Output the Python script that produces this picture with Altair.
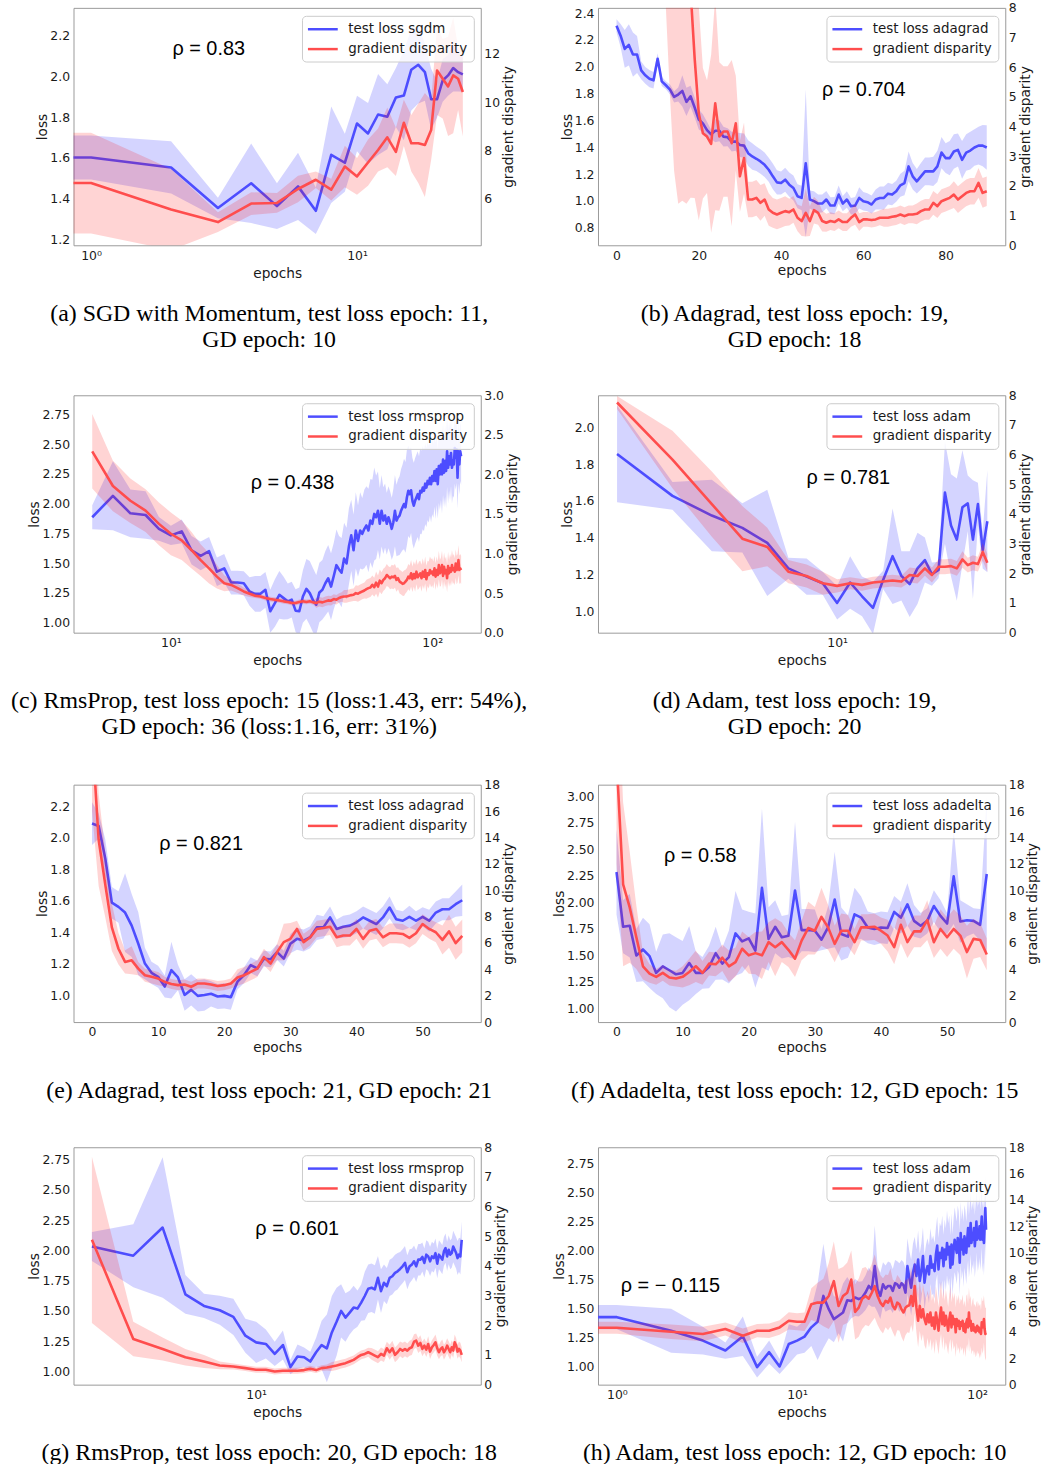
import altair as alt
import numpy as np
import pandas as pd

# ---------------- (a) SGD with momentum ----------------
A_EPOCH = list(range(0, 26))
A_LOSS = [1.602, 1.602, 1.553, 1.354, 1.475, 1.363, 1.460, 1.340, 1.615, 1.576,
          1.769, 1.720, 1.813, 1.802, 1.896, 1.906, 2.033, 2.057, 2.021, 1.888,
          1.888, 1.980, 2.005, 2.041, 2.021, 2.010]
A_LOSS_SD = [.108, .108, .128, .05, .195, .112, .165, .114, .237, .142,
             .136, .149, .199, .16, .145, .22, .2, .19, .14, .15,
             .09, .105, .1, .115, .095, .085]
A_GD = [6.645, 6.645, 5.547, 5.025, 5.794, 5.821, 6.398, 6.782, 6.370, 7.332,
        6.920, 7.496, 8.018, 8.540, 7.936, 9.144, 8.293, 8.293, 8.224, 8.842,
        11.313, 10.970, 10.654, 11.108, 10.970, 10.421]
A_GD_SD = [2.09, 2.09, 1.68, .41, .47, .41, .55, .34, .45, .86,
           .76, .96, .89, 1.24, 1.0, .96, 1.17, 1.65, 2.16, 1.24,
           1.85, 1.65, 2.06, 2.4, 1.3, 1.85]

# ---------------- (b) Adagrad ----------------
B_EPOCH = list(range(0, 91))
B_LOSS = [2.306, 2.232, 2.133, 2.163, 2.091, 2.091, 1.973, 1.936, 1.911, 1.899,
          2.059, 1.891, 1.862, 1.830, 1.775, 1.793, 1.820, 1.738, 1.780, 1.696,
          1.607, 1.578, 1.528, 1.496, 1.523, 1.523, 1.479, 1.474, 1.442, 1.442,
          1.417, 1.412, 1.356, 1.331, 1.314, 1.294, 1.269, 1.232, 1.183, 1.138,
          1.133, 1.158, 1.121, 1.096, 1.035, 1.022, 1.281, 1.010, 0.998, 0.980,
          0.980, 1.010, 0.965, 0.965, 1.047, 0.980, 1.010, 0.960, 0.965, 1.022,
          0.998, 0.990, 0.973, 1.010, 1.022, 1.022, 1.054, 1.047, 1.072, 1.116,
          1.133, 1.257, 1.183, 1.146, 1.183, 1.220, 1.220, 1.220, 1.257, 1.360,
          1.319, 1.319, 1.368, 1.380, 1.306, 1.360, 1.375, 1.398, 1.412, 1.412,
          1.398]
B_LOSS_SD = [.049, .086, .141, .153, .165, .138, .067, .062, .064, .062,
             .042, .035, .03, .037, .042, .052, .116, .106, .079, .074,
             .074, .067, .062, .035, .086, .079, .074, .067, .074, .069,
             .089, .091, .096, .099, .091, .091, .091, .089, .096, .091,
             .086, .089, .091, .094, .089, .091, .55, .067, .074, .067,
             .067, .064, .062, .064, .067, .057, .062, .062, .064, .079,
             .069, .067, .067, .074, .086, .086, .081, .079, .079, .086,
             .091, .111, .099, .091, .099, .104, .104, .109, .116, .116,
             .111, .128, .128, .123, .141, .136, .141, .136, .141, .153,
             .165]
B_GD = [40, 35, 30, 27, 24, 22, 20, 18.5, 17, 16,
        15, 14, 13.5, 13, 12.5, 12, 11, 10.5, 8.6, 6.29,
        4.447, 3.777, 3.665, 3.419, 4.782, 3.665, 3.832, 3.832, 3.441, 4.112,
        2.324, 2.939, 1.542, 1.542, 1.598, 1.430, 1.542, 1.207, 1.095, 1.039,
        1.095, 1.151, 1.117, 1.207, 0.927, 0.816, 1.095, 0.816, 1.184, 1.095,
        0.816, 0.760, 0.816, 0.782, 0.872, 0.782, 0.782, 0.927, 1.039, 0.782,
        0.872, 0.872, 0.849, 0.872, 0.927, 0.927, 0.927, 0.961, 0.983, 1.039,
        0.983, 1.039, 1.039, 1.061, 1.151, 1.207, 1.207, 1.430, 1.318, 1.486,
        1.542, 1.598, 1.709, 1.542, 1.654, 1.765, 1.821, 1.821, 2.101, 1.765,
        1.821]
B_GD_SD = [12, 10.5, 9, 8, 7.2, 6.6, 6, 5.5, 5.1, 4.8,
           4.5, 4.2, 5.5, 8, 10, 10.6, 9.5, 9.1, 7, 4.7,
           3.6, 2.2, 1.9, 3.0, 3.6, 2.5, 2.2, 2.2, 2.8, 1.6,
           1.2, 1.2, .6, .6, .6, .6, .55, .55, .5, .5,
           .5, .5, .45, .45, .45, .5, .8, .5, .45, .4,
           .35, .3, .3, .3, .3, .3, .3, .3, .35, .3,
           .25, .25, .25, .25, .25, .3, .3, .3, .3, .3,
           .3, .3, .3, .35, .35, .35, .35, .4, .4, .4,
           .4, .4, .45, .45, .45, .45, .45, .45, .5, .5,
           .5]

# ---------------- (c) RMSprop ----------------
C_EPOCH = list(range(5, 130))
C_LOSS = [1.886, 2.066, 1.919, 1.905, 1.789, 1.734, 1.767, 1.609, 1.562, 1.601,
          1.429, 1.457, 1.338, 1.338, 1.332, 1.263, 1.243, 1.243, 1.277, 1.097,
          1.166, 1.235, 1.207, 1.180, 1.194, 1.102, 1.097, 1.221, 1.285, 1.249,
          1.188, 1.152, 1.255, 1.277, 1.332, 1.374, 1.304, 1.393, 1.484, 1.448,
          1.421, 1.540, 1.498, 1.642, 1.734, 1.609, 1.775, 1.687, 1.775, 1.747,
          1.789, 1.817, 1.775, 1.858, 1.831, 1.914, 1.886, 1.941, 1.831, 1.941,
          1.858, 1.900, 1.831, 1.886, 1.844, 1.789, 1.844, 1.941, 1.858, 1.886,
          1.900, 1.941, 1.969, 1.997, 1.969, 2.052, 2.108, 2.080, 2.113, 2.024,
          1.983, 2.024, 2.052, 2.080, 2.038, 2.108, 2.094, 2.135, 2.108, 2.168,
          2.135, 2.191, 2.163, 2.218, 2.163, 2.232, 2.191, 2.274, 2.191, 2.288,
          2.163, 2.315, 2.246, 2.329, 2.246, 2.371, 2.260, 2.357, 2.274, 2.440,
          2.301, 2.398, 2.329, 2.426, 2.301, 2.357, 2.329, 2.468, 2.385, 2.454,
          2.218, 2.440, 2.329, 2.440, 2.398]
C_LOSS_SD = [.1, .29, .2, .2, .1, .08, .1, .12, .12, .12,
             .12, .12, .1, .1, .1, .12, .15, .15, .15, .18,
             .2, .2, .18, .15, .15, .18, .2, .22, .25, .27,
             .27, .25, .25, .25, .27, .28, .28, .28, .3, .28,
             .29, .3, .3, .32, .3, .3, .32, .3, .32, .3,
             .33, .33, .35, .35, .37, .39, .35, .33, .3, .3,
             .28, .27, .26, .26, .26, .26, .28, .3, .3, .32,
             .33, .35, .36, .38, .38, .4, .38, .37, .36, .36,
             .36, .36, .36, .36, .36, .36, .35, .35, .34, .34,
             .33, .33, .32, .32, .32, .32, .31, .3, .32, .3,
             .29, .31, .3, .3, .33, .3, .29, .3, .31, .3,
             .3, .29, .3, .28, .3, .29, .28, .3, .27, .28,
             .26, .27, .25, .25, .24]
C_GD = [2.292, 1.854, 1.667, 1.542, 1.375, 1.25, 1.167, 1.042, 0.917, 0.813,
        0.708, 0.625, 0.604, 0.563, 0.521, 0.492, 0.467, 0.458, 0.438, 0.425,
        0.417, 0.408, 0.396, 0.388, 0.375, 0.375, 0.388, 0.396, 0.388, 0.396,
        0.383, 0.375, 0.392, 0.383, 0.396, 0.408, 0.404, 0.425, 0.417, 0.438,
        0.45, 0.458, 0.458, 0.467, 0.475, 0.479, 0.5, 0.492, 0.508, 0.521,
        0.533, 0.55, 0.563, 0.571, 0.604, 0.575, 0.633, 0.583, 0.658, 0.625,
        0.667, 0.688, 0.729, 0.708, 0.688, 0.708, 0.7, 0.717, 0.667, 0.688,
        0.646, 0.633, 0.617, 0.625, 0.646, 0.667, 0.708, 0.688, 0.75, 0.675,
        0.742, 0.688, 0.771, 0.7, 0.729, 0.75, 0.688, 0.771, 0.708, 0.792,
        0.675, 0.75, 0.729, 0.792, 0.75, 0.771, 0.729, 0.813, 0.708, 0.792,
        0.729, 0.854, 0.75, 0.771, 0.854, 0.717, 0.833, 0.75, 0.792, 0.688,
        0.842, 0.75, 0.813, 0.771, 0.854, 0.792, 0.813, 0.771, 0.875, 0.792,
        0.813, 0.917, 0.792, 0.813, 0.792]
C_GD_SD = [.47, .32, .28, .27, .27, .27, .25, .23, .2, .19,
           .15, .1, .07, .06, .05, .04, .03, .03, .03, .03,
           .03, .03, .03, .03, .03, .03, .03, .03, .03, .03,
           .03, .06, .06, .06, .06, .06, .06, .06, .06, .06,
           .06, .08, .08, .08, .08, .08, .1, .1, .1, .1,
           .1, .12, .12, .12, .12, .12, .14, .14, .14, .14,
           .14, .14, .14, .13, .14, .15, .15, .15, .15, .14,
           .15, .15, .15, .16, .15, .15, .16, .16, .17, .16,
           .16, .17, .16, .16, .17, .16, .17, .17, .16, .17,
           .17, .16, .17, .17, .18, .17, .17, .16, .17, .17,
           .17, .18, .17, .18, .18, .17, .18, .18, .17, .18,
           .18, .17, .18, .18, .19, .18, .18, .17, .18, .18,
           .18, .19, .18, .18, .18]

# ---------------- (d) Adam ----------------
D_EPOCH = list(range(2, 31))
D_LOSS = [1.855, 1.627, 1.520, 1.453, 1.371, 1.233, 1.188, 1.152, 1.045, 1.156,
          1.081, 1.018, 1.170, 1.299, 1.192, 1.147, 1.233, 1.278, 1.201, 1.224,
          1.645, 1.466, 1.389, 1.565, 1.586, 1.389, 1.582, 1.332, 1.489]
D_LOSS_SD = [.263, .075, .194, .134, .289, .057, .099, .063, .09, .143,
             .108, .142, .05, .26, .134, .179, .194, .122, .063, .045,
             .278, .278, .332, .31, .152, .323, .116, .1, .278]
D_GD = [7.756, 5.833, 4.333, 3.167, 2.889, 2.056, 1.911, 1.667, 1.578, 1.667,
        1.611, 1.689, 1.722, 1.756, 1.722, 1.944, 1.911, 2.167, 1.944, 2.222,
        2.222, 2.244, 2.167, 2.467, 2.278, 2.356, 2.311, 2.722, 2.356]
D_GD_SD = [.22, .97, 1.1, 1.1, .65, .39, .39, .39, .22, .2,
           .2, .2, .2, .2, .2, .25, .25, .25, .25, .25,
           .25, .25, .25, .28, .25, .25, .25, .3, .3]

# ---------------- (e) Adagrad ----------------
E_EPOCH = list(range(0, 57))
E_LOSS = [2.089, 2.074, 1.869, 1.587, 1.560, 1.524, 1.441, 1.326, 1.200, 1.141,
          1.116, 1.054, 1.158, 1.112, 1.001, 1.033, 0.995, 1.001, 1.008, 0.991,
          0.995, 0.987, 1.085, 1.127, 1.190, 1.169, 1.231, 1.227, 1.273, 1.231,
          1.326, 1.357, 1.346, 1.367, 1.430, 1.430, 1.493, 1.420, 1.434, 1.441,
          1.462, 1.493, 1.472, 1.451, 1.493, 1.556, 1.482, 1.472, 1.497, 1.472,
          1.497, 1.472, 1.524, 1.545, 1.545, 1.577, 1.602]
E_LOSS_SD = [.136, .08, .12, .1, .1, .25, .2, .2, .1, .07,
             .07, .07, .18, .08, .1, .1, .1, .1, .08, .08,
             .08, .08, .05, .05, .05, .05, .05, .05, .05, .05,
             .06, .07, .07, .07, .08, .07, .07, .06, .07, .07,
             .07, .07, .07, .07, .07, .07, .06, .06, .07, .06,
             .06, .07, .07, .07, .07, .08, .1]
E_GD = [22, 13.82, 10.44, 7.18, 5.56, 4.56, 4.68, 4.05, 3.55, 3.43,
        3.30, 3.05, 2.88, 2.80, 2.85, 2.68, 2.93, 2.93, 2.85, 2.73,
        2.80, 2.93, 3.38, 3.55, 3.80, 4.05, 4.93, 4.43, 5.31, 6.06,
        6.31, 7.06, 6.06, 6.43, 7.06, 7.13, 7.23, 6.43, 6.56, 6.56,
        7.06, 6.31, 6.93, 7.06, 6.43, 6.73, 6.73, 6.68, 6.38, 6.73,
        7.43, 7.06, 6.81, 6.23, 6.88, 5.98, 6.53]
E_GD_SD = [6, 3.5, 2.5, 1.8, 1.2, .88, 1.06, .5, .5, .5,
           .5, .38, .38, .38, .38, .38, .38, .38, .38, .38,
           .38, .38, .63, .63, .63, .63, .63, .63, .63, 1.4,
           1.2, .63, .63, .63, .63, .63, .63, .75, .75, .75,
           .75, .75, .75, .75, .75, .75, .75, .75, .75, .75,
           .75, .75, .75, 1.1, 1.25, 1.25, 1.25]

# ---------------- (f) Adadelta ----------------
F_EPOCH = list(range(0, 57))
F_LOSS = [2.285, 1.768, 1.778, 1.498, 1.554, 1.491, 1.333, 1.395, 1.358, 1.320,
          1.333, 1.426, 1.333, 1.333, 1.389, 1.519, 1.420, 1.482, 1.706, 1.631,
          1.659, 1.544, 2.135, 1.653, 1.768, 1.669, 1.684, 2.110, 1.737, 1.737,
          1.731, 1.647, 1.762, 2.026, 1.700, 1.675, 1.886, 1.855, 1.762, 1.747,
          1.762, 1.756, 1.908, 1.855, 1.980, 1.824, 1.778, 1.824, 1.964, 1.871,
          1.799, 2.244, 1.818, 1.830, 1.824, 1.787, 2.266]
F_LOSS_SD = [.4, .25, .3, .25, .3, .3, .2, .3, .35, .35,
             .3, .35, .2, .15, .2, .25, .15, .25, .4, .3,
             .25, .35, .75, .3, .25, .2, .2, .65, .2, .2,
             .2, .1, .2, .45, .25, .2, .25, .2, .15, .15,
             .15, .15, .15, .15, .2, .15, .12, .12, .15, .15,
             .1, .45, .2, .15, .12, .15, .73]
F_GD = [20, 10.44, 8.69, 6.43, 4.23, 3.68, 3.43, 3.73, 3.38, 3.30,
        3.43, 3.80, 4.23, 3.73, 4.43, 4.38, 4.88, 4.23, 4.55, 5.56,
        5.06, 5.23, 5.06, 6.06, 5.68, 6.06, 5.48, 4.81, 6.18, 7.13,
        6.93, 7.98, 7.18, 5.93, 6.93, 6.93, 6.06, 7.18, 7.18, 7.23,
        6.93, 6.56, 5.68, 7.38, 6.06, 6.88, 6.88, 7.73, 6.06, 7.06,
        6.43, 7.06, 6.56, 5.31, 6.31, 6.23, 5.13]
F_GD_SD = [8, 6.2, 4.2, 2.4, 1.0, .7, .6, .6, .6, .6,
           .8, 1.0, 1.2, .9, .9, .9, 1.0, 1.2, 1.1, 1.3,
           1.4, 1.6, 1.8, 1.5, 2.2, 1.5, 1.3, 1.4, 1.5, 2.0,
           1.8, 2.2, 1.7, 1.4, 1.3, 1.2, 1.0, 1.0, 1.0, 1.0,
           1.0, 1.2, 1.3, 1.4, 1.2, 1.2, 1.2, 1.5, 1.2, 1.5,
           1.5, 1.5, 1.5, 2.0, 1.5, 1.3, 1.2]

# ---------------- (g) RMSprop ----------------
G_EPOCH = list(range(2, 76))
G_LOSS = [2.032, 1.956, 2.188, 1.636, 1.541, 1.505, 1.451, 1.295, 1.240, 1.227,
          1.145, 1.218, 1.036, 1.123, 1.117, 1.082, 1.158, 1.218, 1.191, 1.322,
          1.410, 1.500, 1.445, 1.486, 1.527, 1.519, 1.568, 1.623, 1.683, 1.691,
          1.677, 1.773, 1.663, 1.732, 1.704, 1.773, 1.786, 1.814, 1.827, 1.846,
          1.868, 1.896, 1.819, 1.868, 1.882, 1.909, 1.868, 1.923, 1.923, 1.945,
          1.896, 1.964, 1.950, 1.909, 1.950, 1.936, 1.977, 1.890, 1.964, 1.945,
          1.923, 1.991, 2.018, 1.950, 2.005, 1.964, 1.977, 2.032, 2.005, 1.977,
          1.936, 1.964, 1.950, 2.087]
G_LOSS_SD = [.12, .26, .58, .16, .1, .12, .15, .14, .17, .12,
             .1, .12, .06, .1, .08, .08, .12, .2, .28, .3,
             .28, .22, .2, .18, .18, .15, .15, .2, .2, .2,
             .2, .18, .18, .15, .15, .15, .15, .15, .15, .14,
             .14, .14, .14, .14, .13, .13, .13, .13, .13, .12,
             .12, .12, .12, .12, .12, .12, .12, .12, .12, .12,
             .12, .12, .12, .12, .12, .12, .12, .13, .13, .13,
             .14, .14, .15, .15]
G_GD = [4.880, 1.538, 1.203, 0.925, 0.780, 0.646, 0.613, 0.557, 0.501, 0.501,
        0.446, 0.468, 0.468, 0.468, 0.490, 0.535, 0.490, 0.557, 0.579, 0.613,
        0.646, 0.691, 0.724, 0.780, 0.836, 0.925, 1.003, 1.036, 1.092, 1.036,
        0.981, 0.925, 1.036, 0.981, 1.226, 1.092, 1.226, 1.003, 1.092, 1.203,
        1.148, 1.203, 1.148, 1.226, 1.259, 1.449, 1.482, 1.315, 1.404, 1.203,
        1.315, 1.181, 1.370, 1.114, 1.259, 1.337, 1.426, 1.226, 1.092, 1.203,
        1.259, 1.092, 1.181, 1.315, 1.203, 1.092, 1.259, 1.148, 1.426, 1.315,
        1.114, 1.203, 1.148, 1.003]
G_GD_SD = [2.8, .58, .39, .28, .22, .13, .1, .1, .1, .1,
           .1, .1, .1, .1, .1, .1, .1, .1, .1, .15,
           .15, .15, .15, .15, .15, .15, .15, .15, .15, .2,
           .2, .2, .22, .22, .22, .25, .25, .25, .25, .25,
           .26, .25, .24, .25, .26, .25, .24, .25, .26, .25,
           .24, .25, .26, .25, .24, .25, .26, .25, .24, .25,
           .26, .25, .24, .25, .26, .25, .24, .25, .26, .25,
           .24, .25, .26, .25]

# ---------------- (h) Adam ----------------
H_EPOCH = list(range(0, 113))
H_LOSS = [1.425, 1.425, 1.308, 1.223, 1.137, 1.260, 0.994, 1.123, 1.000, 1.194,
          1.223, 1.257, 1.337, 1.385, 1.608, 1.494, 1.408, 1.437, 1.465, 1.571,
          1.565, 1.594, 1.580, 1.594, 1.637, 1.694, 1.665, 1.865, 1.665, 1.608,
          1.708, 1.671, 1.694, 1.694, 1.651, 1.717, 1.708, 1.679, 1.717, 1.700,
          1.637, 1.865, 1.765, 1.679, 1.808, 1.879, 1.779, 1.922, 1.737, 1.822,
          1.951, 1.722, 1.822, 1.865, 1.794, 1.951, 1.851, 1.879, 1.822, 1.965,
          2.042, 1.837, 1.979, 1.936, 2.022, 1.865, 2.008, 1.922, 2.065, 1.965,
          2.031, 1.851, 2.051, 1.879, 2.008, 2.093, 2.036, 1.979, 2.108, 2.065,
          1.894, 2.151, 2.008, 2.093, 1.965, 2.122, 2.065, 1.979, 2.093, 2.193,
          2.036, 2.122, 2.236, 2.065, 2.151, 2.093, 2.193, 2.036, 2.122, 2.250,
          2.093, 2.179, 2.108, 2.208, 2.093, 2.179, 2.293, 2.093, 2.165, 2.065,
          2.208, 2.365, 2.179]
H_LOSS_SD = [.105, .105, .19, .12, .07, .17, .09, .1, .065, .17,
             .12, .14, .16, .33, .45, .25, .2, .15, .25, .2,
             .15, .16, .15, .14, .15, .16, .15, .35, .2, .2,
             .19, .2, .21, .2, .19, .2, .2, .21, .2, .2,
             .21, .24, .23, .24, .25, .24, .23, .25, .24, .24,
             .25, .24, .23, .24, .25, .24, .24, .25, .24, .23,
             .25, .27, .26, .27, .28, .27, .26, .27, .28, .27,
             .27, .28, .27, .26, .27, .28, .27, .27, .28, .27,
             .28, .27, .26, .27, .28, .27, .28, .27, .26, .28,
             .27, .28, .27, .28, .27, .26, .28, .27, .28, .27,
             .28, .27, .28, .27, .26, .28, .27, .28, .27, .28,
             .27, .28, .27]
H_GD = [4.316, 4.316, 4.015, 3.84, 4.22, 3.71, 4.09, 4.09, 4.34, 4.84,
        4.77, 4.77, 6.10, 6.22, 6.22, 6.72, 7.85, 5.97, 6.72, 6.97,
        7.97, 5.52, 5.84, 6.52, 6.72, 6.52, 6.97, 7.47, 6.72, 6.22,
        5.97, 6.35, 6.22, 6.60, 5.97, 5.72, 6.22, 6.10, 5.72, 5.47,
        5.84, 5.97, 6.02, 6.72, 5.97, 7.47, 5.84, 4.84, 5.97, 5.09,
        5.72, 4.97, 4.59, 5.34, 4.72, 5.47, 4.47, 5.09, 4.22, 5.47,
        4.84, 4.09, 5.09, 5.84, 4.59, 5.47, 4.47, 5.22, 4.72, 4.09,
        4.97, 5.47, 4.34, 5.22, 4.59, 4.97, 3.97, 4.97, 4.47, 4.84,
        4.22, 4.72, 4.47, 4.84, 4.09, 4.59, 3.97, 4.72, 4.97, 4.34,
        5.47, 4.47, 4.84, 4.09, 4.47, 4.59, 4.09, 4.34, 3.97, 4.22,
        4.47, 4.09, 4.34, 3.97, 4.22, 3.84, 4.72, 4.34, 4.47, 4.97,
        4.22, 3.84, 3.92]
H_GD_SD = [.45, .45, .55, .55, .5, .55, .5, .55, .55, .65,
           .65, .7, 1.2, 1.5, 1.8, 2.5, 3.0, 2.8, 2.2, 2.3,
           2.2, 2.1, 2.2, 2.3, 2.2, 2.1, 2.2, 2.4, 2.2, 2.1,
           2.1, 2.0, 2.1, 2.2, 2.0, 2.1, 2.1, 2.0, 2.1, 2.2,
           2.1, 2.0, 2.1, 2.2, 2.0, 2.1, 1.9, 2.0, 1.9, 1.8,
           1.9, 2.0, 1.9, 1.8, 1.9, 2.0, 1.9, 1.8, 1.9, 2.0,
           1.9, 1.8, 1.9, 2.0, 1.9, 1.8, 1.9, 2.0, 1.9, 1.8,
           1.9, 2.0, 1.9, 1.8, 1.9, 2.0, 1.9, 1.8, 1.9, 2.0,
           1.9, 1.8, 1.9, 2.0, 1.9, 1.8, 1.9, 2.0, 1.9, 1.8,
           1.9, 2.0, 1.9, 1.8, 1.9, 2.0, 1.9, 1.8, 1.9, 2.0,
           1.9, 1.8, 1.9, 2.0, 1.9, 1.8, 1.9, 2.0, 1.9, 1.8,
           1.9, 2.0, 1.9]

# ---------------- styling ----------------
BLUE, RED = "#4d4dff", "#ff4d4d"
BAND_BLUE, BAND_RED = "#0000ff", "#ff0000"
BAND_OPACITY = 0.17
FRAME = "#9a9a9a"
INK = "#1a1a1a"
W, H = 410, 239
SUPERSCRIPT = "datum.value == 1 ? '10\u2070' : datum.value == 10 ? '10\u00b9' : '10\u00b2'"

LEGEND = alt.Legend(
    title=None, orient="top-right", offset=7.5, padding=6,
    fillColor="rgba(255,255,255,0.8)", strokeColor="#cccccc", cornerRadius=4,
    symbolType="M-2.5,0H2.5", symbolSize=144, symbolStrokeWidth=2.5,
    symbolOffset=7.5, labelOffset=18, rowPadding=6,
    labelFont="DejaVu Sans", labelFontSize=13.5, labelColor=INK, labelLimit=300,
)


def panel(epochs, loss, loss_sd, gd, gd_sd, optimizer, x_log, x_domain, x_ticks,
          loss_domain, loss_ticks, loss_fmt, gd_domain, gd_ticks, gd_fmt,
          rho, rho_at, caption, dx):
    ep = np.asarray(epochs, dtype=float)
    if x_log:
        # epoch 0 has no place on a log axis: it is parked past the left edge,
        # so the clipped segment runs flat into the first epoch
        pos = np.where(ep > 0, ep, x_domain[0] / 4)
        xscale = alt.Scale(type="log", domain=x_domain, nice=False)
        # the raised exponent makes these labels taller, so the title sits lower
        xaxis = alt.Axis(values=x_ticks, labelExpr=SUPERSCRIPT, title="epochs", titlePadding=5)
    else:
        pos = ep
        xscale = alt.Scale(domain=x_domain, nice=False, zero=False)
        xaxis = alt.Axis(values=x_ticks, format="d", title="epochs", titlePadding=2)

    m, s = np.asarray(loss, float), np.asarray(loss_sd, float)
    g, gs = np.asarray(gd, float), np.asarray(gd_sd, float)
    df = pd.DataFrame({"pos": pos, "loss": m, "loss_lo": m - s, "loss_hi": m + s,
                       "gd": g, "gd_lo": g - gs, "gd_hi": g + gs})

    x = alt.X("pos:Q", scale=xscale, axis=xaxis)
    yscale = alt.Scale(domain=loss_domain, nice=False, zero=False)
    yaxis = alt.Axis(values=loss_ticks, format=loss_fmt, title="loss", orient="left")
    gscale = alt.Scale(domain=gd_domain, nice=False, zero=False)
    gaxis = alt.Axis(values=gd_ticks, format=gd_fmt, title="gradient disparity",
                     orient="right", titleAngle=270, titleBaseline="top")
    blue_label = f"test loss {optimizer}"
    color = alt.Color("series:N", legend=LEGEND,
                      scale=alt.Scale(domain=[blue_label, "gradient disparity"],
                                      range=[BLUE, RED]))

    base = alt.Chart(df)
    blue_band = base.mark_area(color=BAND_BLUE, opacity=BAND_OPACITY, clip=True).encode(
        x=x, y=alt.Y("loss_lo:Q", scale=yscale, axis=yaxis), y2="loss_hi:Q")
    blue_line = base.transform_calculate(series=f"'{blue_label}'").mark_line(
        clip=True, strokeWidth=2.6, strokeJoin="round").encode(
        x=x, y=alt.Y("loss:Q", scale=yscale, axis=yaxis), color=color)
    rho_df = pd.DataFrame({"pos": [rho_at[0]], "loss": [rho_at[1]], "label": [rho]})
    rho_text = alt.Chart(rho_df).mark_text(
        font="Liberation Sans", fontSize=20, color="black", align="center", baseline="middle").encode(
        x=x, y=alt.Y("loss:Q", scale=yscale, axis=yaxis), text="label:N")

    red_band = base.mark_area(color=BAND_RED, opacity=BAND_OPACITY, clip=True).encode(
        x=x, y=alt.Y("gd_lo:Q", scale=gscale, axis=gaxis), y2="gd_hi:Q")
    red_line = base.transform_calculate(series="'gradient disparity'").mark_line(
        clip=True, strokeWidth=2.6, strokeJoin="round").encode(
        x=x, y=alt.Y("gd:Q", scale=gscale, axis=gaxis), color=color)

    left = alt.layer(blue_band, blue_line, rho_text)
    right = alt.layer(red_band, red_line)
    title = alt.TitleParams(
        text=caption, orient="bottom", anchor="middle", frame="group",
        font="Liberation Serif", fontSize=24, fontWeight="normal", color="black",
        lineHeight=26, offset=22 if x_log else 25, dx=dx)
    return alt.layer(left, right).resolve_scale(y="independent").properties(
        width=W, height=H, title=title, view=alt.ViewBackground(stroke=FRAME, strokeWidth=1))


def gap(h):
    return alt.Chart(pd.DataFrame({"v": [0]})).mark_point(opacity=0).encode(
        x=alt.value(0), y=alt.value(0)).properties(
        width=W, height=h, view=alt.ViewBackground(stroke="transparent"))


pa = panel(A_EPOCH, A_LOSS, A_LOSS_SD, A_GD, A_GD_SD, "sgdm", True, [0.859, 29.2], [1, 10],
           [1.1707, 2.3366], [1.2, 1.4, 1.6, 1.8, 2.0, 2.2], ".1f",
           [4.064, 13.91], [6, 8, 10, 12], "d",
           "\u03c1 = 0.83", (2.77, 2.135),
           ["(a) SGD with Momentum, test loss epoch: 11,", "GD epoch: 10"], -8)
pb = panel(B_EPOCH, B_LOSS, B_LOSS_SD, B_GD, B_GD_SD, "adagrad", False, [-4.5, 94.5], [0, 20, 40, 60, 80],
           [0.669, 2.439], [0.8, 1.0, 1.2, 1.4, 1.6, 1.8, 2.0, 2.2, 2.4], ".1f",
           [0, 8], list(range(0, 9)), "d",
           "\u03c1 = 0.704", (60.1, 1.824),
           ["(b) Adagrad, test loss epoch: 19,", "GD epoch: 18"], -7)
pc = panel(C_EPOCH, C_LOSS, C_LOSS_SD, C_GD, C_GD_SD, "rmsprop", True, [4.24, 153.4], [10, 100],
           [0.917, 2.910], [1.0, 1.25, 1.5, 1.75, 2.0, 2.25, 2.5, 2.75], ".2f",
           [0, 3], [0, 0.5, 1.0, 1.5, 2.0, 2.5, 3.0], ".1f",
           "\u03c1 = 0.438", (29.2, 2.177),
           ["(c) RmsProp, test loss epoch: 15 (loss:1.43, err: 54%),",
            "GD epoch: 36 (loss:1.16, err: 31%)"], -8)
pd_ = panel(D_EPOCH, D_LOSS, D_LOSS_SD, D_GD, D_GD_SD, "adam", True, [1.74, 34.2], [10],
            [0.883, 2.174], [1.0, 1.2, 1.4, 1.6, 1.8, 2.0], ".1f",
            [0, 8], list(range(0, 9)), "d",
            "\u03c1 = 0.781", (10.85, 1.726),
            ["(d) Adam, test loss epoch: 19,", "GD epoch: 20"], -7)
pe = panel(E_EPOCH, E_LOSS, E_LOSS_SD, E_GD, E_GD_SD, "adagrad", False, [-2.8, 58.8], [0, 10, 20, 30, 40, 50],
           [0.8285, 2.336], [1.0, 1.2, 1.4, 1.6, 1.8, 2.0, 2.2], ".1f",
           [0, 18], list(range(0, 19, 2)), "d",
           "\u03c1 = 0.821", (16.5, 1.958),
           "(e) Adagrad, test loss epoch: 21, GD epoch: 21", -8)
pf = panel(F_EPOCH, F_LOSS, F_LOSS_SD, F_GD, F_GD_SD, "adadelta", False, [-2.8, 58.8], [0, 10, 20, 30, 40, 50],
           [0.869, 3.109], [1.0, 1.25, 1.5, 1.75, 2.0, 2.25, 2.5, 2.75, 3.0], ".2f",
           [0, 18], list(range(0, 19, 2)), "d",
           "\u03c1 = 0.58", (12.67, 2.431),
           "(f) Adadelta, test loss epoch: 12, GD epoch: 15", -7)
pg = panel(G_EPOCH, G_LOSS, G_LOSS_SD, G_GD, G_GD_SD, "rmsprop", True, [1.67, 90.4], [10],
           [0.891, 2.851], [1.0, 1.25, 1.5, 1.75, 2.0, 2.25, 2.5, 2.75], ".2f",
           [0, 8], list(range(0, 9)), "d",
           "\u03c1 = 0.601", (14.95, 2.174),
           "(g) RmsProp, test loss epoch: 20, GD epoch: 18", -8)
ph = panel(H_EPOCH, H_LOSS, H_LOSS_SD, H_GD, H_GD_SD, "adam", True, [0.785, 143.2], [1, 10, 100],
           [0.843, 2.89], [1.0, 1.25, 1.5, 1.75, 2.0, 2.25, 2.5, 2.75], ".2f",
           [0, 18], list(range(0, 19, 2)), "d",
           "\u03c1 = \u2212 0.115", (1.98, 1.693),
           "(h) Adam, test loss epoch: 12, GD epoch: 10", -7)

chart = alt.concat(
    pa, pb, gap(151), gap(151),
    pc, pd_, gap(153), gap(153),
    pe, pf, gap(126), gap(126),
    pg, ph,
    columns=2, spacing={"row": 0, "column": 118}, bounds="flush", align="each",
).resolve_scale(color="independent").resolve_legend(color="independent").properties(
    padding={"left": 10, "top": -4, "right": 4, "bottom": 0},
).configure(font="DejaVu Sans", background="white").configure_axis(
    labelFont="DejaVu Sans", labelFontSize=12.5, labelColor=INK,
    titleFont="DejaVu Sans", titleFontSize=13.8, titleFontWeight="normal", titleColor=INK,
    grid=False, domain=False, ticks=False, labelPadding=4,
).configure_axisLeft(titlePadding=0).configure_axisRight(
    titlePadding=2, labelPadding=3).configure_axisBottom(labelPadding=4)

chart.save("out.html", embed_options={"renderer": "svg", "actions": False})
